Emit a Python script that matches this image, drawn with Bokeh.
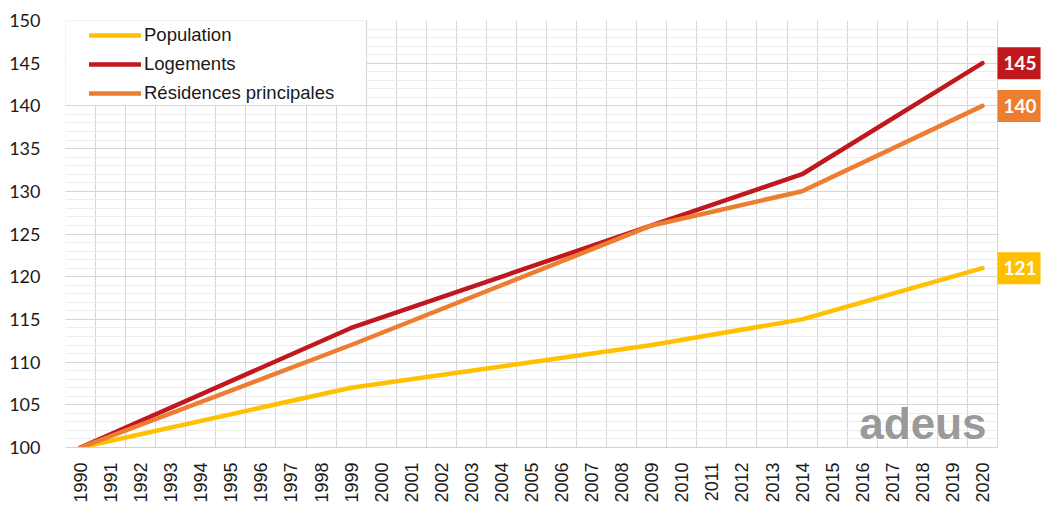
import math
from bokeh.plotting import figure
from bokeh.models import FixedTicker, Range1d, Label, Legend, LegendItem, BoxAnnotation
from bokeh.embed import file_html
from bokeh.resources import INLINE

# ---- data (index base 100 in 1990) ----
years = [1990, 1999, 2009, 2014, 2020]
population = [100, 107, 112, 115, 121]
logements = [100, 114, 126, 132, 145]
residences = [100, 112, 126, 130, 140]

series_names = ["Population", "Logements", "Résidences principales"]
series_values = [population, logements, residences]
colors = ["#FFC000", "#C0181D", "#ED7D31"]

year_ticks = list(range(1990, 2021))
y_ticks = list(range(100, 151, 5))
y_minor = list(range(100, 151, 1))

# layout (pixels)
W, H = 1041, 507
LEFT, TOP, BOTTOM = 65, 20, 60
DATA_RIGHT_PX = 997          # x pixel of the right edge of the data area
x0, x1 = year_ticks[0] - 0.5, year_ticks[-1] + 0.5
px_per_year = (DATA_RIGHT_PX - LEFT) / (x1 - x0)
x_end = x1 + (W - DATA_RIGHT_PX) / px_per_year

p = figure(width=W, height=H, output_backend="svg", toolbar_location=None,
           x_range=Range1d(x0, x_end), y_range=Range1d(100, 150),
           min_border_left=LEFT, min_border_right=0, min_border_top=TOP,
           min_border_bottom=BOTTOM)
p.outline_line_color = None
p.background_fill_color = "white"
p.border_fill_color = "white"

# axes
p.xaxis.ticker = FixedTicker(ticks=year_ticks)
p.xaxis.bounds = (x0, x1)
p.xaxis.major_label_orientation = math.pi / 2
p.xaxis.major_label_text_font = "Liberation Sans"
p.xaxis.major_label_text_font_size = "18px"
p.xaxis.major_label_text_color = "#1a1a1a"
p.xaxis.major_label_standoff = 15
p.xaxis.major_tick_line_color = None
p.xaxis.major_tick_out = 0
p.xaxis.major_tick_in = 0
p.xaxis.minor_tick_line_color = None
p.xaxis.axis_line_color = "#d0d0d0"

p.yaxis.ticker = FixedTicker(ticks=y_ticks, minor_ticks=y_minor)
p.yaxis.major_label_text_font = "Lato"
p.yaxis.major_label_text_font_size = "18px"
p.yaxis.major_label_text_color = "#1a1a1a"
p.yaxis.major_label_standoff = 21
p.yaxis.major_tick_line_color = None
p.yaxis.major_tick_out = 0
p.yaxis.major_tick_in = 0
p.yaxis.minor_tick_line_color = None
p.yaxis.axis_line_color = None

# grids
p.xgrid.ticker = FixedTicker(ticks=[y - 0.5 for y in year_ticks] + [x1])
p.xgrid.grid_line_color = "#d6d6d6"
p.xgrid.grid_line_width = 1
p.ygrid.grid_line_color = "#d6d6d6"
p.ygrid.grid_line_width = 1
p.ygrid.minor_grid_line_color = "#ececec"
p.ygrid.minor_grid_line_width = 1

# blank area right of the data area (for end labels)
p.add_layout(BoxAnnotation(left=x1 + 1.5 / px_per_year, fill_color="white",
                           fill_alpha=1, line_color=None, level="underlay"))

# watermark
p.add_layout(Label(x=x1, y=100, x_offset=-11, y_offset=0, text="adeus",
                   text_align="right", text_baseline="bottom",
                   text_font="Liberation Sans", text_font_style="bold",
                   text_font_size="44px", text_color="#8c8c8c", text_alpha=0.9))

# lines
renderers = []
for name, vals, col in zip(series_names, series_values, colors):
    r = p.line(years, vals, line_color=col, line_width=4.5,
               line_join="round", line_cap="round")
    renderers.append(r)

# end labels
for vals, col in zip(series_values, colors):
    p.add_layout(Label(x=x1, y=vals[-1], x_offset=0, text=str(vals[-1]),
                       text_align="left", text_baseline="middle",
                       text_font="Lato", text_font_style="bold",
                       text_font_size="19px", text_color="white",
                       background_fill_color=col,
                       padding=dict(left=6, right=4, top=9, bottom=9)))

# legend frame (screen units, relative to the plot frame)
frame_h = H - TOP - BOTTOM
p.add_layout(BoxAnnotation(left=0, right=301, top=frame_h, bottom=frame_h - 85,
                           left_units="screen", right_units="screen",
                           top_units="screen", bottom_units="screen",
                           fill_color="white", fill_alpha=1,
                           line_color="#a6a6a6", line_width=1))

legend = Legend(items=[LegendItem(label=n, renderers=[r])
                       for n, r in zip(series_names, renderers)],
                location=(24, frame_h - 87), margin=0, padding=0, spacing=1,
                glyph_width=52, glyph_height=28, label_height=28,
                label_standoff=3,
                label_text_font="Liberation Sans", label_text_font_size="18.5px",
                label_text_color="#1a1a1a",
                border_line_color=None, background_fill_alpha=0)
p.add_layout(legend)

open("out.html", "w").write(file_html(p, INLINE))
